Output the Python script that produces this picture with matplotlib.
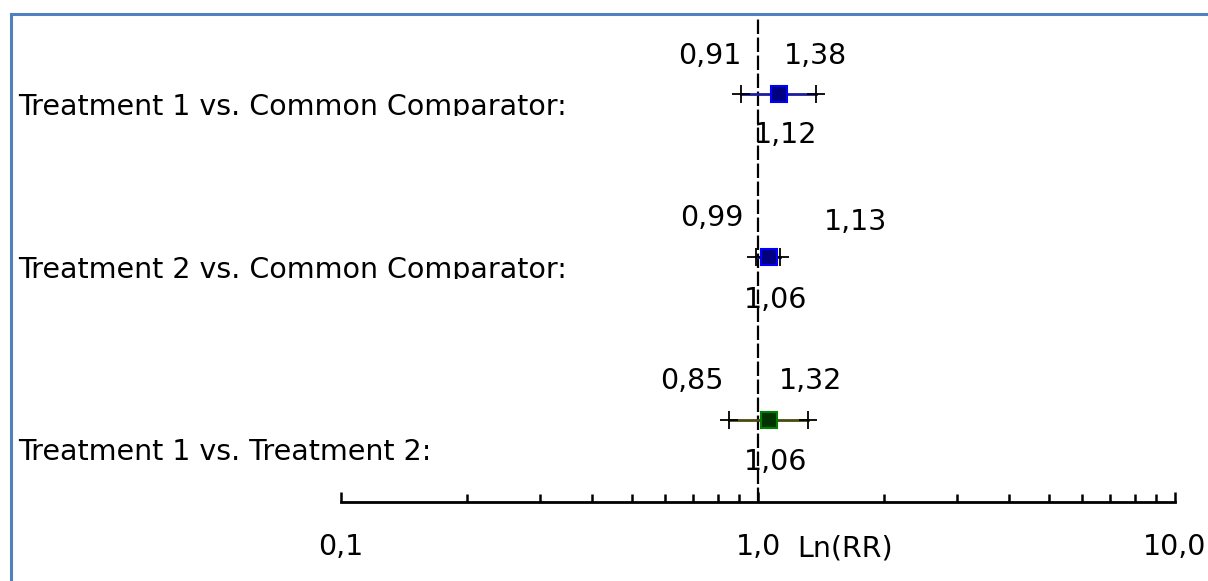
import numpy as np
import matplotlib
matplotlib.use('Agg')
import matplotlib.pyplot as plt
import matplotlib.ticker as ticker
from matplotlib.patches import Rectangle

# data
comparisons = ['Treatment 1 vs. Common Comparator:',
               'Treatment 2 vs. Common Comparator:',
               'Treatment 1 vs. Treatment 2:']
rr = [1.12, 1.06, 1.06]
ci_low = [0.91, 0.99, 0.85]
ci_high = [1.38, 1.13, 1.32]
rr_txt = ['1,12', '1,06', '1,06']
low_txt = ['0,91', '0,99', '0,85']
high_txt = ['1,38', '1,13', '1,32']
major_ticks = [0.1, 1.0, 10.0]
major_labels = ['0,1', '1,0', '10,0']

# styles per row
line_col = ['#1c1c9c', '#1c1c9c', '#4a4a10']
box_face = ['#000080', '#000080', '#003300']
box_edge = ['#0000ff', '#0000ff', '#008000']
# label offsets in pixels (low, high, point)
off_low = [(-31, 38), (-44, 39), (-37, 39)]
off_high = [(-1, 38), (75, 35), (2, 39)]
off_pt = [(7, -41), (7, -43), (7, -42)]
label_base = [115, 278, 460]   # baseline of left labels, px from top
clip_base = [116, 279, 475]

W, H = 1208, 581
fig = plt.figure(figsize=(W / 100, H / 100), dpi=100)
fs = 20.5
plt.rcParams['font.family'] = ['DejaVu Sans']

ax = fig.add_axes([341 / W, 0, 834 / W, 1])
ax.set_xscale('log')
ax.set_xlim(0.1, 10)
ax.set_ylim((H - 94) / 163, -94 / 163)
ax.patch.set_alpha(0)
for s in ['top', 'left', 'right']:
    ax.spines[s].set_visible(False)
ax.spines['bottom'].set_position(('data', (502 - 94) / 163))
ax.spines['bottom'].set_linewidth(2)
ax.set_yticks([])
ax.xaxis.set_major_locator(ticker.FixedLocator(major_ticks))
ax.xaxis.set_major_formatter(ticker.FixedFormatter(major_labels))
ax.xaxis.set_minor_locator(ticker.FixedLocator(
    [0.2, 0.3, 0.4, 0.5, 0.6, 0.7, 0.8, 0.9, 2, 3, 4, 5, 6, 7, 8, 9]))
ax.xaxis.set_minor_formatter(ticker.NullFormatter())
ax.tick_params(axis='x', which='major', direction='in', length=7.5, width=1.8,
               pad=22, labelsize=fs)
ax.tick_params(axis='x', which='minor', direction='in', length=5.5, width=1.8)

# reference line at 1
ax.axvline(1.0, ymin=(H - 502) / H, ymax=(H - 13) / H, color='black', lw=1.6,
           dashes=(6.5, 1.6), zorder=1)

for i in range(len(rr)):
    ax.plot([ci_low[i], ci_high[i]], [i, i], color=line_col[i], lw=2, zorder=2)
    ax.plot([ci_low[i], ci_high[i]], [i, i], ls='none', marker='+', ms=13,
            mew=1.3, color='black', zorder=3)
    ax.plot([rr[i]], [i], ls='none', marker='s', ms=11.5, mfc=box_face[i],
            mec=box_edge[i], mew=1.5, zorder=4)
    for val, txt, off in [(ci_low[i], low_txt[i], off_low[i]),
                          (ci_high[i], high_txt[i], off_high[i]),
                          (rr[i], rr_txt[i], off_pt[i])]:
        ax.annotate(txt, (val, i), xytext=off, textcoords='offset pixels',
                    ha='center', va='center', fontsize=fs, zorder=5)

# left labels, clipped just under the baseline
for i, name in enumerate(comparisons):
    t = fig.text(18 / W, 1 - label_base[i] / H, name, ha='left', va='baseline',
                 fontsize=fs)
    clip = Rectangle((0, 1 - clip_base[i] / H), 1, 0.5, transform=fig.transFigure)
    t.set_clip_path(clip)

fig.text(845 / W, 1 - 548 / H, 'Ln(RR)', ha='center', va='center', fontsize=fs)

# blue frame (top and left)
fig.add_artist(plt.Line2D([10.5 / W, 10.5 / W], [0, 1 - 13.5 / H],
                          transform=fig.transFigure, color='#4f81bd', lw=2.2))
fig.add_artist(plt.Line2D([10.5 / W, 1], [1 - 13.5 / H, 1 - 13.5 / H],
                          transform=fig.transFigure, color='#4f81bd', lw=2.2))

fig.savefig('out.png', dpi=100)
